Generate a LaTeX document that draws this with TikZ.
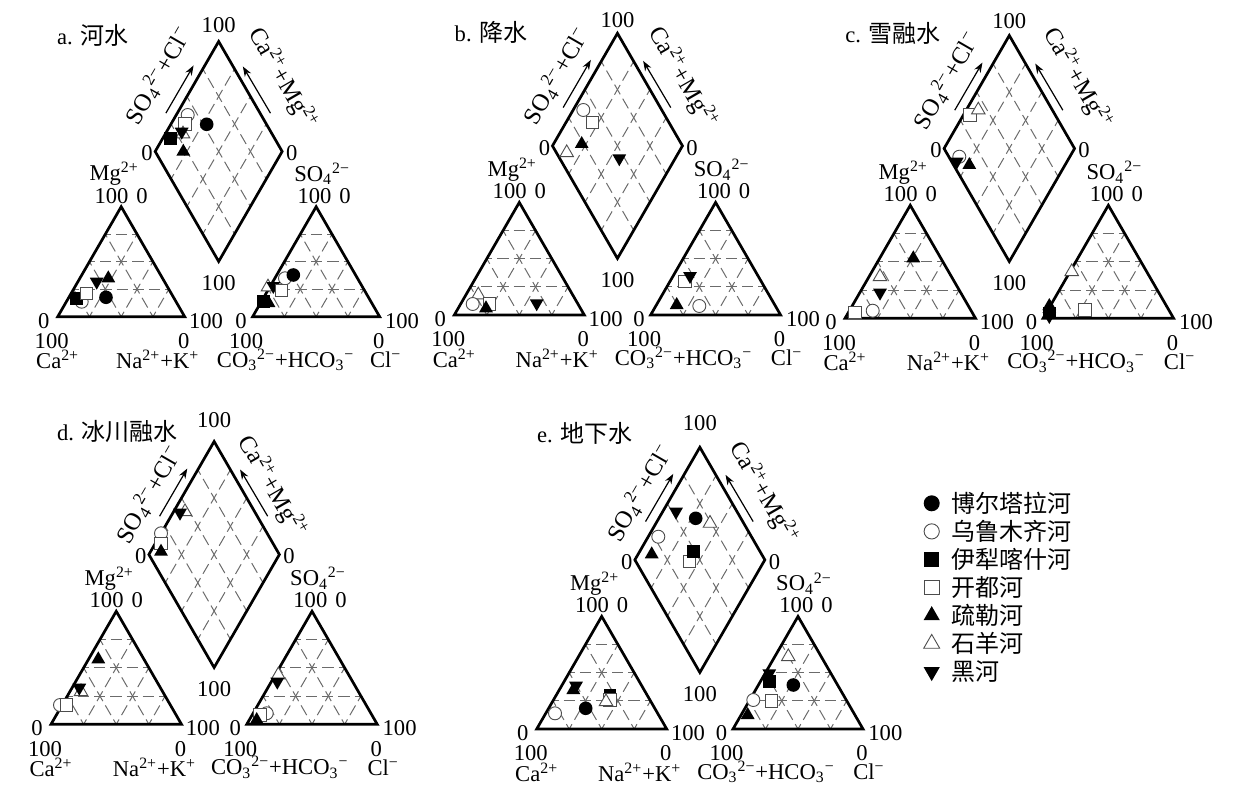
\documentclass[tikz,border=0pt]{standalone}
\usepackage{fontspec}
\setmainfont{Liberation Serif}
\newfontfamily\cjk{Noto Sans CJK SC}
\usetikzlibrary{calc,shapes.geometric,arrows.meta}
\tikzset{
 frame/.style={line width=1.35pt, line join=miter},
 gridln/.style={black!58, line width=0.5pt, dash pattern=on 5.6pt off 2.5pt, dash phase=2.8pt},
 lbl/.style={inner sep=0pt, font=\fontsize{11.3}{13}\selectfont},
 rlbl/.style={inner sep=0pt, font=\fontsize{12.2}{13}\selectfont},
 clbl/.style={inner sep=0pt, font=\fontsize{12}{14}\selectfont\cjk},
 mk/.style={inner sep=0pt, outer sep=0pt},
 fc/.style={mk, circle, fill=black, minimum size=6.8pt},
 oc/.style={mk, circle, draw=black!70, fill=white, line width=0.45pt, minimum size=6.5pt},
 fs/.style={mk, rectangle, fill=black, minimum size=6.3pt},
 os/.style={mk, rectangle, draw=black!70, fill=white, line width=0.45pt, minimum size=6.2pt},
 ft/.style={mk, regular polygon, regular polygon sides=3, fill=black, minimum size=8pt},
 ot/.style={mk, regular polygon, regular polygon sides=3, draw=black!70, fill=white, line width=0.45pt, minimum size=7.8pt},
 fv/.style={ft, shape border rotate=180},
 arr/.style={line width=0.6pt, -{Stealth[length=5pt,width=3.6pt]}},
}
% #1 X0, #2 Y0, #3 side, #4 gap fraction, #5 prefix, #6 top-label offset,
% #7 offset of the SO4+Cl label from the left vertex, #8 offset of the Ca+Mg label from the right vertex
\newcommand\piperpanel[8]{%
\begin{scope}[shift={(#1,#2)}]
 \pgfmathsetmacro\ps{#3}
 \pgfmathsetmacro\pg{#3*#4}
 \pgfmathsetmacro\ph{#3*0.8660254}
 \pgfmathsetmacro\pb{#3*0.435}
 \coordinate (#5L1) at (0,0);
 \coordinate (#5L2) at (\ps,0);
 \coordinate (#5L3) at ({\ps/2},{-\ph});
 \coordinate (#5R1) at ({\ps+\pg},0);
 \coordinate (#5R2) at ({2*\ps+\pg},0);
 \coordinate (#5R3) at ({1.5*\ps+\pg},{-\ph});
 \coordinate (#5Db) at ({\ps+\pg/2},{-\pb});
 \coordinate (#5Dl) at ({\ps/2+\pg/2},{-\pb-\ph});
 \coordinate (#5Dr) at ({1.5*\ps+\pg/2},{-\pb-\ph});
 \coordinate (#5Dt) at ({\ps+\pg/2},{-\pb-2*\ph});
 \foreach \t in {0.25,0.5,0.75}{
  \draw[gridln] ($(#5L1)!\t!(#5L3)$) -- ($(#5L2)!\t!(#5L3)$);
  \draw[gridln] ($(#5L1)!\t!(#5L2)$) -- ($(#5L3)!\t!(#5L2)$);
  \draw[gridln] ($(#5L2)!\t!(#5L1)$) -- ($(#5L3)!\t!(#5L1)$);
  \draw[gridln] ($(#5R1)!\t!(#5R3)$) -- ($(#5R2)!\t!(#5R3)$);
  \draw[gridln] ($(#5R1)!\t!(#5R2)$) -- ($(#5R3)!\t!(#5R2)$);
  \draw[gridln] ($(#5R2)!\t!(#5R1)$) -- ($(#5R3)!\t!(#5R1)$);
  \draw[gridln] ($(#5Dl)!\t!(#5Db)$) -- ($(#5Dt)!\t!(#5Dr)$);
  \draw[gridln] ($(#5Dl)!\t!(#5Dt)$) -- ($(#5Db)!\t!(#5Dr)$);
 }
 \draw[frame] (#5L1) -- (#5L2) -- (#5L3) -- cycle;
 \draw[frame] (#5R1) -- (#5R2) -- (#5R3) -- cycle;
 \draw[frame] (#5Db) -- (#5Dr) -- (#5Dt) -- (#5Dl) -- cycle;
 % left triangle labels
 \node[lbl, anchor=east] (#5n1) at ($(#5L1)+(-8,4)$) {0};
 \node[lbl, anchor=west] (#5n2) at ($(#5L2)+(4,4)$) {100};
 \node[lbl] (#5n3) at ($(#5L1)+(-6,24.5)$) {100};
 \node[lbl] (#5n4) at ($(#5L2)+(-1,24.5)$) {0};
 \node[lbl] (#5n5) at ($(#5L1)+(0,43)$) {Ca\textsuperscript{2+}};
 \node[lbl] (#5n6) at ($(#5L2)+(-27,43)$) {Na\textsuperscript{2+}+K\textsuperscript{+}};
 \node[lbl] (#5n7) at ($(#5L3)+(-7,-33)$) {Mg\textsuperscript{2+}};
 \node[lbl] (#5n8) at ($(#5L3)+(0,-11)$) {100\hspace{4pt}0};
 % right triangle labels
 \node[lbl, anchor=east] (#5n9) at ($(#5R1)+(-5.5,4)$) {0};
 \node[lbl, anchor=west] (#5n10) at ($(#5R2)+(5,4)$) {100};
 \node[lbl] (#5n11) at ($(#5R1)+(-6.5,24.5)$) {100};
 \node[lbl] (#5n12) at ($(#5R2)+(-1,24.5)$) {0};
 \node[lbl] (#5n13) at ($(#5R1)+(33,43)$) {CO\textsubscript{3}\textsuperscript{2−}+HCO\textsubscript{3}\textsuperscript{−}};
 \node[lbl] (#5n14) at ($(#5R2)+(6,43)$) {Cl\textsuperscript{−}};
 \node[lbl] (#5n15) at ($(#5R3)+(6,-33)$) {SO\textsubscript{4}\textsuperscript{2−}};
 \node[lbl] (#5n16) at ($(#5R3)+(8,-11)$) {100\hspace{4pt}0};
 % diamond labels
 \node[lbl] (#5n17) at ($(#5Dt)+(0,#6)$) {100};
 \node[lbl, anchor=east] (#5n18) at ($(#5Dl)+(-2,2)$) {0};
 \node[lbl, anchor=west] (#5n19) at ($(#5Dr)+(3.5,2)$) {0};
 \node[lbl] (#5n20) at ($(#5Db)+(0,21.5)$) {100};
 \node[rlbl, rotate=60] (#5n21) at ($(#5Dl)+(#7)$) {SO\textsubscript{4}\textsuperscript{2−}+Cl\textsuperscript{−}};
 \node[rlbl, rotate=-60] (#5n22) at ($(#5Dr)+(#8)$) {Ca\textsuperscript{2+}+Mg\textsuperscript{2+}};
 \coordinate (#5A1) at ($(#5Dl)+(10.7,-38.3)$);
 \coordinate (#5A2) at ($(#5Dl)+(38.4,-86)$);
 \coordinate (#5B1) at ($(#5Dr)+(-11.7,-38.3)$);
 \coordinate (#5B2) at ($(#5Dr)+(-39.3,-85)$);
 \draw[arr] (#5A1) -- (#5A2);
 \draw[arr] (#5B1) -- (#5B2);
\end{scope}}
\begin{document}
\begin{tikzpicture}[x=0.5pt,y=-0.5pt]
\useasboundingbox (0,0) rectangle (1241,802);
\piperpanel{57.7}{316.7}{127}{0.535}{a}{-16}{3,-76}{0.7,-72.7}
\piperpanel{454.3}{315}{130}{0.51}{b}{-13}{4,-70}{0.7,-68.3}
\piperpanel{845}{318.3}{130.5}{0.518}{c}{-14}{2.5,-68}{3.4,-70}
\piperpanel{51}{724.3}{130.5}{0.5}{d}{-21}{0,-60}{-6.8,-68}
\piperpanel{536.7}{729}{130}{0.51}{e}{-24}{5,-67}{-1,-66.7}
% titles
\node[lbl, anchor=west] (ta) at (56.7,35) {a. {\fontsize{12}{14}\selectfont\cjk 河水}};
\node[lbl, anchor=west] (tb) at (454.3,32.7) {b. {\fontsize{12}{14}\selectfont\cjk 降水}};
\node[lbl, anchor=west] (tc) at (845,33.3) {c. {\fontsize{12}{14}\selectfont\cjk 雪融水}};
\node[lbl, anchor=west] (td) at (56.7,431.7) {d. {\fontsize{12}{14}\selectfont\cjk 冰川融水}};
\node[lbl, anchor=west] (te) at (536.7,433.3) {e. {\fontsize{12}{14}\selectfont\cjk 地下水}};
% panel a markers
\node[oc] at (187.7,115) {};
\node[os] at (185,124) {};
\node[fc] at (206.7,124.3) {};
\node[ot] at (183,134) {};
\node[fv] at (181.7,131.7) {};
\node[fs] at (170.7,138.3) {};
\node[ft] at (183.3,151.7) {};
\node[oc] at (81.7,301.7) {};
\node[fs] at (76.7,298.3) {};
\node[os] at (86.7,293.3) {};
\node[fv] at (96.7,281.7) {};
\node[ft] at (108.3,278.3) {};
\node[fc] at (106,297.3) {};
\node[oc] at (285,278.3) {};
\node[fc] at (293.3,275) {};
\node[ot] at (268,287) {};
\node[fv] at (273.3,286) {};
\node[os] at (281.7,290.7) {};
\node[fs] at (263.3,301.7) {};
\node[ft] at (268.5,303) {};
% panel b markers
\node[oc] at (583.3,110) {};
\node[os] at (592.7,122.7) {};
\node[ft] at (581.7,144) {};
\node[ot] at (566.7,152.7) {};
\node[fv] at (619.3,158.3) {};
\node[ot] at (478.3,295) {};
\node[oc] at (472.7,304) {};
\node[os] at (489.3,304) {};
\node[ft] at (486,308.3) {};
\node[fv] at (536.7,303.3) {};
\node[os] at (685,281.7) {};
\node[fv] at (690,276) {};
\node[ft] at (676.7,305) {};
\node[oc] at (699.3,306) {};
% panel c markers
\node[os] at (970,115) {};
\node[ot] at (978.3,110) {};
\node[oc] at (959.3,156.7) {};
\node[fv] at (956.7,161.7) {};
\node[ft] at (969.3,165) {};
\node[ft] at (913.3,258.3) {};
\node[ot] at (880,276.7) {};
\node[fv] at (880,292.7) {};
\node[os] at (855,312.7) {};
\node[oc] at (872.7,310.7) {};
\node[ot] at (1071.7,271.7) {};
\node[ft] at (1049.3,306) {};
\node[fs] at (1049.3,313) {};
\node[fv] at (1049.3,316) {};
\node[os] at (1085,310) {};
% panel d markers
\node[oc] at (161,533.3) {};
\node[os] at (161,543.3) {};
\node[ft] at (161,551.7) {};
\node[ot] at (185,511.7) {};
\node[fv] at (180,512.7) {};
\node[ft] at (98.3,659.3) {};
\node[ot] at (81,691.7) {};
\node[fv] at (79.3,687.7) {};
\node[oc] at (60,705) {};
\node[os] at (66.7,705) {};
\node[ot] at (278.3,675) {};
\node[fv] at (277.3,681.7) {};
\node[oc] at (266.7,713.3) {};
\node[os] at (260,715) {};
\node[ft] at (256.7,720) {};
% panel e markers
\node[fv] at (676,511.7) {};
\node[fc] at (695.7,518.3) {};
\node[ot] at (710,523.3) {};
\node[oc] at (658.3,536.7) {};
\node[ft] at (651.7,554.3) {};
\node[os] at (689.3,561.7) {};
\node[fs] at (693.3,551.7) {};
\node[fv] at (576,685.7) {};
\node[ft] at (573.3,690) {};
\node[fs] at (610,695) {};
\node[os] at (610,700) {};
\node[ot] at (606,701.7) {};
\node[fc] at (585.7,708.3) {};
\node[oc] at (555,713.3) {};
\node[ot] at (788.3,656.7) {};
\node[fv] at (769.3,673.3) {};
\node[fs] at (769.3,681.7) {};
\node[fc] at (793.3,685) {};
\node[oc] at (753.3,700) {};
\node[os] at (771.7,701) {};
\node[ft] at (747.7,715) {};
% legend
\node[fc, minimum size=8pt] (k1) at (931.7,503.3) {};
\node[oc, minimum size=7.6pt] (k2) at (931.7,531.4) {};
\node[fs, minimum size=7.6pt] (k3) at (931.7,559.4) {};
\node[os, minimum size=7.4pt] (k4) at (931.7,587.5) {};
\node[ft, minimum size=9.4pt] (k5) at (931.7,615.5) {};
\node[ot, minimum size=9.2pt] (k6) at (931.7,643.6) {};
\node[fv, minimum size=9.4pt] (k7) at (931.7,671.7) {};
\node[clbl, anchor=west] (l1) at (950.7,503.3) {博尔塔拉河};
\node[clbl, anchor=west] (l2) at (950.7,531.4) {乌鲁木齐河};
\node[clbl, anchor=west] (l3) at (950.7,559.4) {伊犁喀什河};
\node[clbl, anchor=west] (l4) at (950.7,587.5) {开都河};
\node[clbl, anchor=west] (l5) at (950.7,615.5) {疏勒河};
\node[clbl, anchor=west] (l6) at (950.7,643.6) {石羊河};
\node[clbl, anchor=west] (l7) at (950.7,671.7) {黑河};
\end{tikzpicture}
\end{document}
